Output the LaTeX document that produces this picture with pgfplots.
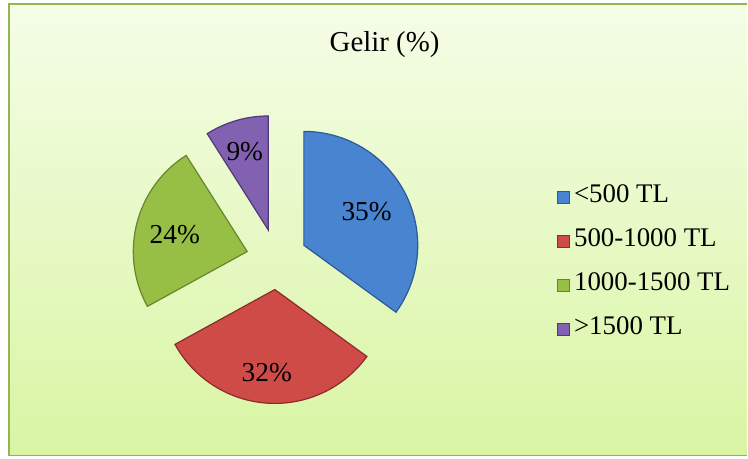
\documentclass[border=0pt]{standalone}
\usepackage{pgfplots}
\pgfplotsset{compat=1.18}
\usepackage{pgfplotstable}
\usepackage{fontspec}
\setmainfont{Liberation Serif}

\definecolor{blueF}{HTML}{4884D0}
\definecolor{blueD}{HTML}{2C5A96}
\definecolor{redF}{HTML}{CE4B48}
\definecolor{redD}{HTML}{8C2C2A}
\definecolor{greenF}{HTML}{97BF45}
\definecolor{greenD}{HTML}{67862A}
\definecolor{purpF}{HTML}{8262B0}
\definecolor{purpD}{HTML}{52387A}
\definecolor{bgTop}{HTML}{F5FDE7}
\definecolor{bgBot}{HTML}{D9F5A3}
\definecolor{frame}{HTML}{93B552}

\pgfplotstableread{
label value
a 35
b 32
c 24
d 9
}\piedata

\begin{document}
\begin{tikzpicture}
\pgfplotstablegetelem{0}{value}\of\piedata\global\let\vA\pgfplotsretval
\pgfplotstablegetelem{1}{value}\of\piedata\global\let\vB\pgfplotsretval
\pgfplotstablegetelem{2}{value}\of\piedata\global\let\vC\pgfplotsretval
\pgfplotstablegetelem{3}{value}\of\piedata\global\let\vD\pgfplotsretval
\def\cx{277}\def\cy{199.6}\def\ex{30.5}\def\rr{114}
\pgfmathsetmacro\sA{90}
\pgfmathsetmacro\eA{\sA-3.6*\vA}
\pgfmathsetmacro\mA{(\sA+\eA)/2}
\pgfmathsetmacro\xA{\cx+\ex*cos(\mA)}
\pgfmathsetmacro\yA{\cy+\ex*sin(\mA)}
\pgfmathsetmacro\sB{\eA}
\pgfmathsetmacro\eB{\sB-3.6*\vB}
\pgfmathsetmacro\mB{(\sB+\eB)/2}
\pgfmathsetmacro\xB{\cx+\ex*cos(\mB)}
\pgfmathsetmacro\yB{\cy+\ex*sin(\mB)}
\pgfmathsetmacro\sC{\eB}
\pgfmathsetmacro\eC{\sC-3.6*\vC}
\pgfmathsetmacro\mC{(\sC+\eC)/2}
\pgfmathsetmacro\xC{\cx+\ex*cos(\mC)}
\pgfmathsetmacro\yC{\cy+\ex*sin(\mC)}
\pgfmathsetmacro\sD{\eC}
\pgfmathsetmacro\eD{\sD-3.6*\vD}
\pgfmathsetmacro\mD{(\sD+\eD)/2}
\pgfmathsetmacro\xD{\cx+\ex*cos(\mD)}
\pgfmathsetmacro\yD{\cy+\ex*sin(\mD)}
\begin{axis}[
  width=748bp, height=459bp, scale only axis,
  xmin=0, xmax=748, ymin=0, ymax=459,
  hide axis, clip=false,
  legend image code/.code={\fill[#1, line width=0.5bp] (0bp,-6bp) rectangle (12bp,6bp);},
  legend style={at={(axis cs:557,275)}, anchor=north west, draw=none, fill=none,
    inner sep=0pt, row sep=18bp,
    font=\fontsize{27}{30}\selectfont,
    nodes={inner sep=1bp, text height=18bp, text depth=6bp},
    /tikz/every even column/.append style={column sep=0bp},
    /tikz/every odd column/.append style={column sep=4bp}},
  legend cell align=left,
]
\path (axis cs:0,0) (axis cs:748,459);
\fill[top color=bgTop, bottom color=bgBot] (axis cs:9,455) rectangle (axis cs:748,3);
\draw[frame, line width=1.6bp] (axis cs:748,455) -- (axis cs:9,455) -- (axis cs:9,3) -- (axis cs:748,3);

\addplot[fill=blueF, draw=blueD, line width=1.2bp, domain=\eA:\sA, samples=80, variable=\t]
  ({\xA+\rr*cos(\t)},{\yA+\rr*sin(\t)}) -- (axis cs:\xA,\yA) -- cycle;
\addlegendentry{<500 TL}
\addplot[fill=redF, draw=redD, line width=1.2bp, domain=\eB:\sB, samples=80, variable=\t]
  ({\xB+\rr*cos(\t)},{\yB+\rr*sin(\t)}) -- (axis cs:\xB,\yB) -- cycle;
\addlegendentry{500-1000 TL}
\addplot[fill=greenF, draw=greenD, line width=1.2bp, domain=\eC:\sC, samples=80, variable=\t]
  ({\xC+\rr*cos(\t)},{\yC+\rr*sin(\t)}) -- (axis cs:\xC,\yC) -- cycle;
\addlegendentry{1000-1500 TL}
\addplot[fill=purpF, draw=purpD, line width=1.2bp, domain=\eD:\sD, samples=40, variable=\t]
  ({\xD+\rr*cos(\t)},{\yD+\rr*sin(\t)}) -- (axis cs:\xD,\yD) -- cycle;
\addlegendentry{>1500 TL}

\node[font=\fontsize{27.5}{30}\selectfont] at (axis cs:367,247) {\vA\%};
\node[font=\fontsize{27.5}{30}\selectfont] at (axis cs:267,86) {\vB\%};
\node[font=\fontsize{27.5}{30}\selectfont] at (axis cs:175,224) {\vC\%};
\node[font=\fontsize{27.5}{30}\selectfont] at (axis cs:245,307) {\vD\%};
\node[font=\fontsize{29}{32}\selectfont] at (axis cs:385,414) {Gelir (\%)};
\end{axis}
\end{tikzpicture}
\end{document}
